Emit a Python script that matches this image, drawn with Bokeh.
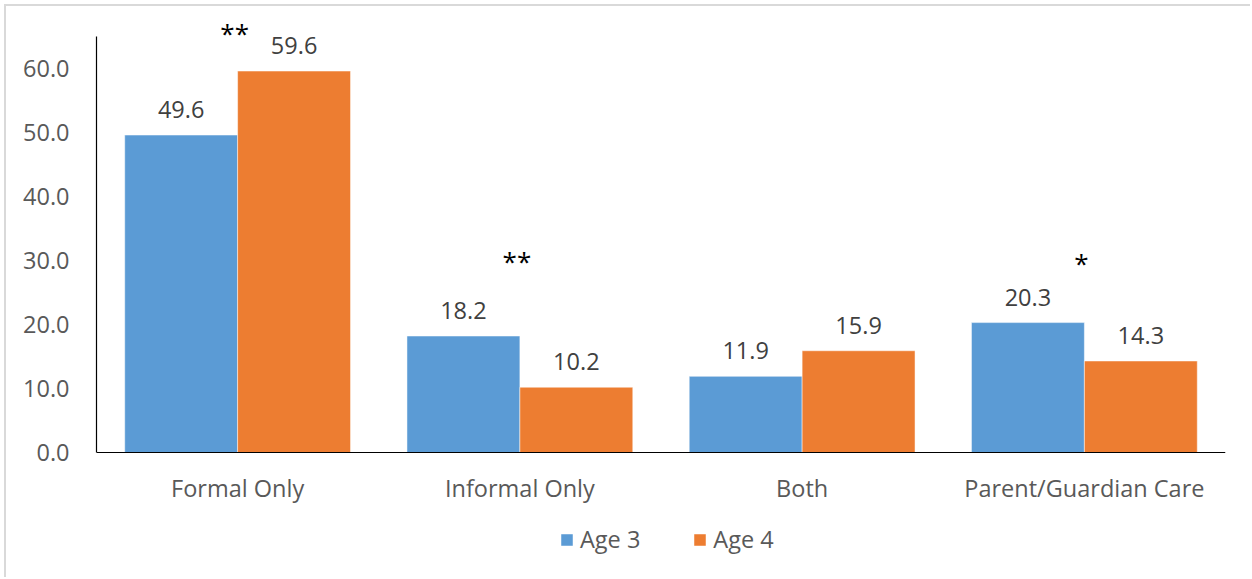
from bokeh.plotting import figure
from bokeh.models import (FactorRange, Range1d, Legend, LegendItem, ColumnDataSource,
                          CustomJSTickFormatter, Span)
from bokeh.transform import dodge
from bokeh.core.properties import value
from bokeh.embed import file_html
from bokeh.resources import INLINE

# Care arrangement by child's age (percent)
categories = ["Formal Only", "Informal Only", "Both", "Parent/Guardian Care"]
age3 = [49.6, 18.2, 11.9, 20.3]
age4 = [59.6, 10.2, 15.9, 14.3]
# significance markers and their heights
sig_marks = ["**", "**", "", "*"]
sig_y = [65.9, 30.3, 0.0, 30.0]
y_ticks = [0, 10, 20, 30, 40, 50, 60]

BLUE = "#5B9BD5"
ORANGE = "#ED7D31"
FONT = "Open Sans"

src = ColumnDataSource(dict(
    cat=categories,
    zero=[0.0] * len(categories),
    age3=age3,
    age4=age4,
    age3_lbl=[f"{v:.1f}" for v in age3],
    age4_lbl=[f"{v:.1f}" for v in age4],
))
sig_src = ColumnDataSource(dict(
    cat=[c for c, m in zip(categories, sig_marks) if m],
    mark=[m for m in sig_marks if m],
    y=[y for y, m in zip(sig_y, sig_marks) if m],
))

# the frame reaches down to the bottom edge so the legend below the
# category labels stays inside the drawable area
p = figure(
    x_range=FactorRange(*categories),
    y_range=Range1d(-19.84, 68.44),
    width=1246, height=573,
    output_backend="svg", toolbar_location=None,
    min_border_left=90, min_border_right=27,
    min_border_top=8, min_border_bottom=0,
)
p.margin = (4, 0, 0, 4)
p.styles = {"border-left": "2px solid #d9d9d9", "border-top": "2px solid #d9d9d9"}
p.outline_line_color = None
p.grid.grid_line_color = None
p.background_fill_color = "white"
p.border_fill_color = "white"
p.xaxis.visible = False

r3 = p.vbar(x=dodge("cat", -0.2, range=p.x_range), top="age3", width=0.4, source=src,
            fill_color=BLUE, line_color="white", line_width=0.8, line_alpha=0.6)
r4 = p.vbar(x=dodge("cat", 0.2, range=p.x_range), top="age4", width=0.4, source=src,
            fill_color=ORANGE, line_color="white", line_width=0.8, line_alpha=0.6)

# category axis line and labels
p.add_layout(Span(location=0, dimension="width", line_color="black", line_width=1.2))
p.text(x="cat", y="zero", text="cat", source=src, text_font=value(FONT),
       text_font_size="23.5px", text_color="#595959", text_align="center",
       text_baseline="middle", y_offset=35)

lbl_kw = dict(text_font=value(FONT), text_font_size="23.5px", text_color="#404040",
              text_align="center", text_baseline="bottom", y_offset=-17, source=src)
p.text(x=dodge("cat", -0.2, range=p.x_range), y="age3", text="age3_lbl", **lbl_kw)
p.text(x=dodge("cat", 0.2, range=p.x_range), y="age4", text="age4_lbl", **lbl_kw)

p.text(x="cat", y="y", text="mark", source=sig_src, text_font=value(FONT),
       text_font_size="26px", text_color="black", text_align="center",
       text_baseline="middle", x_offset=-3, y_offset=2)

# value axis
p.yaxis.ticker = y_ticks
p.yaxis.bounds = (0, 65)
p.yaxis.formatter = CustomJSTickFormatter(code="return tick.toFixed(1);")
p.yaxis.axis_line_color = "black"
p.yaxis.axis_line_width = 1.2
p.yaxis.major_tick_line_color = None
p.yaxis.minor_tick_line_color = None
p.yaxis.major_label_text_font = FONT
p.yaxis.major_label_text_font_size = "23.5px"
p.yaxis.major_label_text_color = "#595959"
p.yaxis.major_label_standoff = 21

legend = Legend(
    items=[LegendItem(label="Age 3", renderers=[r3]), LegendItem(label="Age 4", renderers=[r4])],
    orientation="horizontal", location=(463, 24),
    border_line_alpha=0, background_fill_alpha=0,
    padding=0, margin=0, spacing=52,
    glyph_width=15, glyph_height=15, label_height=24,
    label_text_font=FONT, label_text_font_size="23.5px", label_text_color="#595959",
    label_standoff=6,
)
p.add_layout(legend, "center")

open("out.html", "w").write(file_html(p, INLINE))
